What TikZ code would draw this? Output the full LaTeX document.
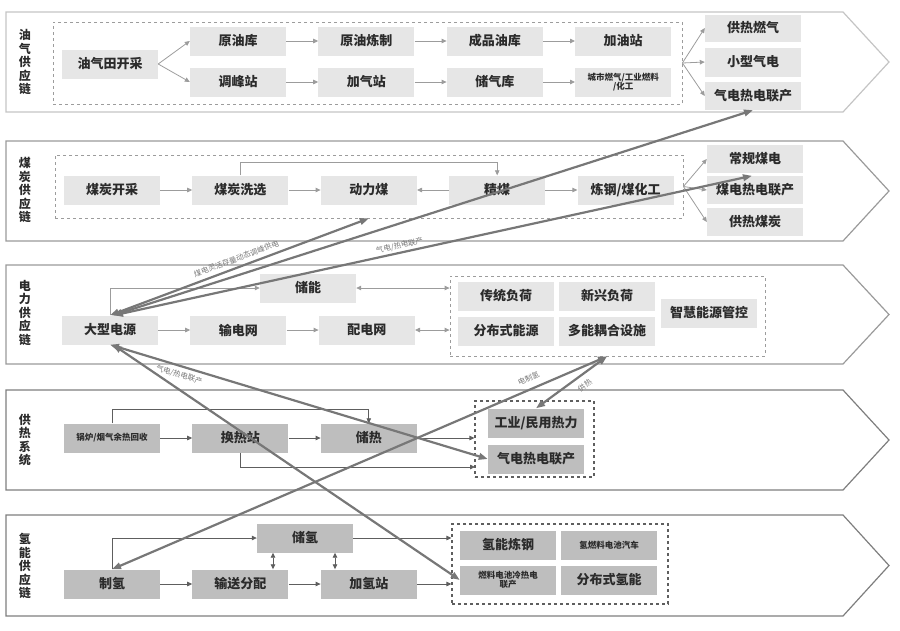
\documentclass[tikz,border=0pt]{standalone}
\usepackage{fontspec}
\setmainfont{Noto Sans CJK SC}
\usetikzlibrary{arrows.meta,positioning,calc}

\definecolor{boxlight}{HTML}{E6E6E6}
\definecolor{boxdark}{HTML}{BEBEBE}
\definecolor{edge}{HTML}{9C9C9C}
\definecolor{edgedark}{HTML}{5E5E5E}
\definecolor{bandlight}{HTML}{C4C4C4}
\definecolor{bandline}{HTML}{9A9A9A}
\definecolor{banddark}{HTML}{7E7E7E}
\definecolor{linkline}{HTML}{777777}
\definecolor{ink}{HTML}{2B2B2B}

\tikzset{
  band/.style={line width=1.2pt, line join=miter},
  group/.style={draw=edge, dashed, line width=0.8pt, inner sep=0pt},
  groupdark/.style={group, draw=edgedark, line width=1.1pt},
  item/.style={fill=boxlight, text=ink, font=\fontsize{13}{15}\selectfont\bfseries,
    minimum width=96pt, minimum height=29pt, inner sep=1pt},
  itemdark/.style={item, fill=boxdark},
  minor/.style={font=\fontsize{8.5}{9.5}\selectfont\bfseries, align=center},
  flow/.style={draw=edge, line width=0.8pt, -{Triangle[length=5pt,width=4.5pt]}},
  flowdark/.style={flow, draw=edgedark},
  twoway/.style={flow, {Triangle[length=5pt,width=4.5pt]}-{Triangle[length=5pt,width=4.5pt]}},
  twowaydark/.style={twoway, draw=edgedark},
  link/.style={draw=linkline, line width=2.2pt,
    {Triangle[length=9pt,width=6.5pt]}-{Triangle[length=9pt,width=6.5pt]}},
  tag/.style={font=\fontsize{7.5}{8}\selectfont, text=linkline, sloped, inner sep=2pt},
  bandtitle/.style={font=\fontsize{12}{13.5}\selectfont\bfseries, text=ink, align=center}
}

\begin{document}
\begin{tikzpicture}[x=1pt, y=-1pt, node distance=32pt]
  \useasboundingbox (0,0) rectangle (900,630);

  % Bands
  \foreach \t/\b/\c in {12/112/bandlight, 141/241/bandline, 265/364/bandline,
                        390/490/banddark, 515/616/banddark}
    \draw[band, draw=\c] (6,\t) -- (843,\t) -- (889,{(\t+\b)/2}) -- (843,\b) -- (6,\b) -- cycle;

  \node[bandtitle] (oiltitle) at (25,62) {油\\气\\供\\应\\链};
  \node[bandtitle] (coaltitle) at (25,190) {煤\\炭\\供\\应\\链};
  \node[bandtitle] (powertitle) at (25,313) {电\\力\\供\\应\\链};
  \node[bandtitle] (heattitle) at (25,440) {供\\热\\系\\统};
  \node[bandtitle] (h2title) at (25,566) {氢\\能\\供\\应\\链};

  % Oil and gas
  \node[group, minimum width=629pt, minimum height=82pt] (oilgroup) at (367.5,63) {};
  \node[item] (oilfield) at (110,64) {油气田开采};
  \node[item] (crudedepot) at (238,41) {原油库};
  \node[item, right=of crudedepot] (refinery) {原油炼制};
  \node[item, right=of refinery] (productdepot) {成品油库};
  \node[item, right=of productdepot] (fuelstation) {加油站};
  \node[item] (peakstation) at (238,82) {调峰站};
  \node[item, right=of peakstation] (cngstation) {加气站};
  \node[item, right=of cngstation] (gasdepot) {储气库};
  \node[item, right=of gasdepot, minor] (gasuse) {城市燃气/工业燃料\\/化工};
  \node[item, minimum height=27pt] (heatgas) at (753,28) {供热燃气};
  \node[item] (smallgas) at (753,62) {小型气电};
  \node[item, minimum height=28pt] (gaschp) at (753,96) {气电热电联产};

  \draw[flow] (oilfield.east) -- (crudedepot.west);
  \draw[flow] (oilfield.east) -- (peakstation.west);
  \foreach \a/\b in {crudedepot/refinery, refinery/productdepot, productdepot/fuelstation,
                     peakstation/cngstation, cngstation/gasdepot, gasdepot/gasuse}
    \draw[flow] (\a) -- (\b);
  \foreach \n in {heatgas, smallgas, gaschp}
    \draw[flow] (oilgroup.east) -- (\n.west);

  % Coal
  \node[group, minimum width=628pt, minimum height=63pt] (coalgroup) at (369,186.5) {};
  \node[item] (coalmine) at (112,190) {煤炭开采};
  \node[item, right=of coalmine] (coalwash) {煤炭洗选};
  \node[item, right=of coalwash] (steamcoal) {动力煤};
  \node[item, right=of steamcoal] (cleancoal) {精煤};
  \node[item, right=of cleancoal] (coalchem) {炼钢/煤化工};
  \node[item, minimum height=28pt] (coalpower) at (755,159) {常规煤电};
  \node[item, minimum height=28pt] (coalchp) at (755,190) {煤电热电联产};
  \node[item, minimum height=28pt] (heatcoal) at (755,222) {供热煤炭};

  \draw[flow] (coalmine) -- (coalwash);
  \draw[flow] (coalwash) -- (steamcoal);
  \draw[flow] (cleancoal) -- (steamcoal);
  \draw[flow] (cleancoal) -- (coalchem);
  \draw[flow] (coalwash.north) -- ++(0,-13) -| (cleancoal.north);
  \foreach \n in {coalpower, coalchp, heatcoal}
    \draw[flow] (coalgroup.east) -- (\n.west);

  % Power
  \node[group, minimum width=315pt, minimum height=80pt] (loadgroup) at (607.5,316) {};
  \node[item] (bigsource) at (110,330) {大型电源};
  \node[item, right=of bigsource] (transgrid) {输电网};
  \node[item, right=of transgrid] (distgrid) {配电网};
  \node[item] (storage) at (308,288) {储能};
  \node[item] (tradload) at (506,296) {传统负荷};
  \node[item] (newload) at (607,296) {新兴负荷};
  \node[item] (distenergy) at (506,331) {分布式能源};
  \node[item] (multienergy) at (607,331) {多能耦合设施};
  \node[item] (smartctrl) at (709,313) {智慧能源管控};

  \draw[flow] (bigsource) -- (transgrid);
  \draw[flow] (transgrid) -- (distgrid);
  \draw[twoway] (distgrid.east) -- (distgrid.east -| loadgroup.west);
  \draw[twoway] (storage.east) -- (storage.east -| loadgroup.west);
  \draw[flow] (bigsource.north) |- (storage.west);

  % Heat
  \node[groupdark, minimum width=119pt, minimum height=76pt] (heatgroup) at (534.5,439) {};
  \node[itemdark, minor] (boiler) at (112,438) {锅炉/烟气余热回收};
  \node[itemdark, right=of boiler] (heatex) {换热站};
  \node[itemdark, right=of heatex] (heatstore) {储热};
  \node[itemdark] (civilheat) at (536,423) {工业/民用热力};
  \node[itemdark] (heatchp) at (536,459) {气电热电联产};
  \coordinate (heatlow) at (475,467);

  \draw[flowdark] (boiler) -- (heatex);
  \draw[flowdark] (heatex) -- (heatstore);
  \draw[flowdark] (heatstore.east) -- (heatstore.east -| heatgroup.west);
  \draw[flowdark] (boiler.north) -- ++(0,-14) -| (heatstore.north);
  \draw[flowdark] (heatex.south) |- (heatlow);

  % Hydrogen
  \node[groupdark, minimum width=216pt, minimum height=80pt] (h2group) at (560,564) {};
  \node[itemdark] (h2make) at (112,584) {制氢};
  \node[itemdark, right=of h2make] (h2trans) {输送分配};
  \node[itemdark, right=of h2trans] (h2station) {加氢站};
  \node[itemdark] (h2store) at (305,538) {储氢};
  \node[itemdark] (h2steel) at (508,545) {氢能炼钢};
  \node[itemdark, minor] (fcvehicle) at (609,545) {氢燃料电池汽车};
  \node[itemdark, minor] (fcchp) at (508,580) {燃料电池冷热电\\联产};
  \node[itemdark] (h2dist) at (609,580) {分布式氢能};
  \coordinate (h2a) at ([xshift=-32pt]h2store.south);
  \coordinate (h2b) at ([xshift=30pt]h2store.south);

  \draw[flowdark] (h2make) -- (h2trans);
  \draw[flowdark] (h2trans) -- (h2station);
  \draw[flowdark] (h2station.east) -- (h2station.east -| h2group.west);
  \draw[flowdark] (h2store.east) -- (h2store.east -| h2group.west);
  \draw[flowdark] (h2make.north) |- (h2store.west);
  \draw[twowaydark] (h2a) -- (h2a |- h2trans.north);
  \draw[twowaydark] (h2b) -- (h2b |- h2station.north);

  % Links between chains
  \draw[link] ([xshift=3pt]bigsource.north) -- (gaschp.south);
  \draw[link] (bigsource.north) -- (steamcoal.south |- coalgroup.south)
    node[tag, above=2pt, pos=0.5] {煤电灵活存量动态调峰供电};
  \draw[link] ([xshift=4pt]bigsource.north) -- ([xshift=-3pt]coalchp.north)
    node[tag, above, pos=0.45] {气电/热电联产};
  \draw[link] (bigsource.south) -- (heatchp.west)
    node[tag, below=2pt, pos=0.19] {气电/热电联产};
  \draw[link] ([xshift=3pt]bigsource.south) -- (fcchp.west);
  \draw[link] (h2make.north) -- (multienergy.south |- loadgroup.south)
    node[tag, above=4pt, pos=0.85] {电制氢};
  \draw[link] (civilheat.north) -- (multienergy.south |- loadgroup.south)
    node[tag, below=4pt, pos=0.6] {供热};
\end{tikzpicture}
\end{document}
